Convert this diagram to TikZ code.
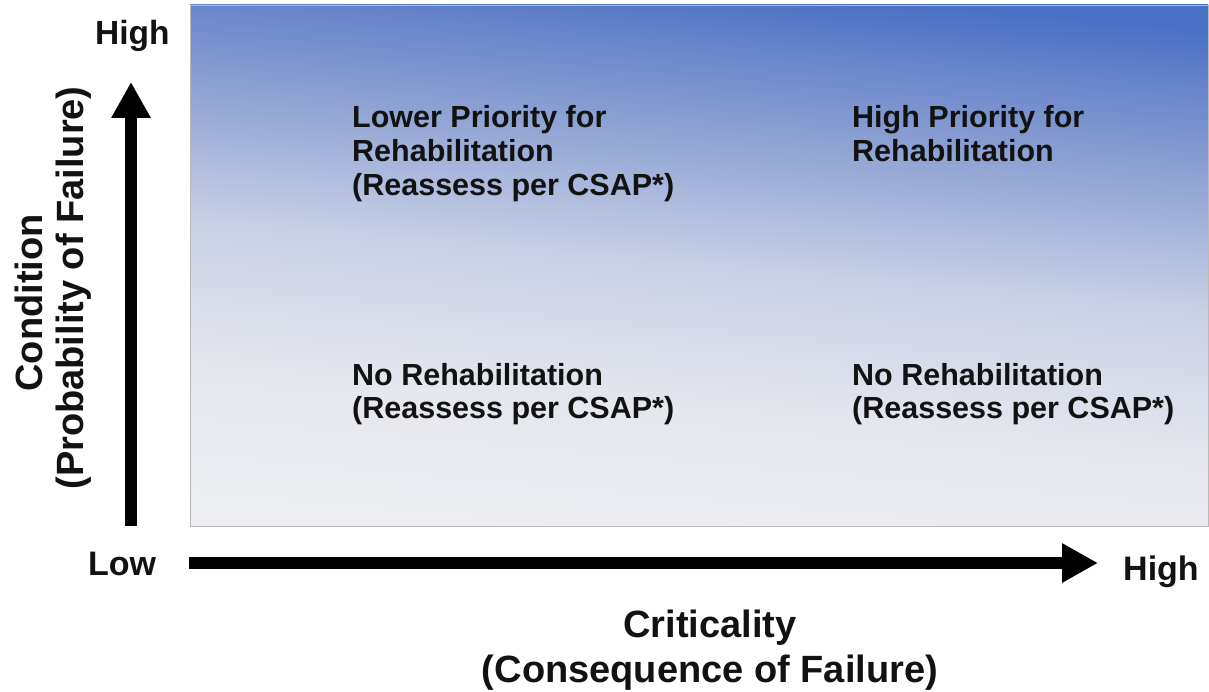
\documentclass[tikz,border=0pt]{standalone}
\usepackage{fontspec}
\setmainfont{Liberation Sans}
\usetikzlibrary{arrows.meta}
\definecolor{gA}{RGB}{237,238,242}
\definecolor{gB}{RGB}{229,231,238}
\definecolor{gC}{RGB}{200,208,229}
\definecolor{gD}{RGB}{146,165,212}
\definecolor{gE}{RGB}{102,131,202}
\definecolor{gF}{RGB}{72,112,196}
\definecolor{ink}{RGB}{18,18,18}
\pgfdeclareverticalshading{bgshade}{100bp}{color(0bp)=(gA); color(25bp)=(gA); color(37bp)=(gB); color(50bp)=(gC); color(61bp)=(gD); color(70bp)=(gE); color(75bp)=(gF); color(100bp)=(gF)}
\tikzset{
  body/.style={anchor=base west, inner sep=0pt, text=ink, font=\fontsize{30.5}{34}\selectfont\bfseries},
  corner/.style={anchor=base west, inner sep=0pt, text=ink, font=\fontsize{34}{40}\selectfont\bfseries},
  axistitle/.style={anchor=base, inner sep=0pt, text=ink, font=\fontsize{38}{46}\selectfont\bfseries},
  bigarrow/.style={line width=12pt, draw=black, -{Triangle[length=36pt,width=37pt]}}
}
\begin{document}
\begin{tikzpicture}[x=1pt,y=-1pt]
\useasboundingbox (0,0) rectangle (1209,692);
\fill[white] (0,0) rectangle (1209,692);
% gradient field
\shade[shading=bgshade, shading angle=-5] (190,5) rectangle (1208,526);
\draw[gray!55, line width=0.8pt] (190,5) rectangle (1208,526);
% quadrant texts
\node[body] (lp1) at (352,128) {Lower Priority for};
\node[body] (lp2) at (352,162) {Rehabilitation};
\node[body] (lp3) at (352,196) {(Reassess per CSAP*)};
\node[body] (hp1) at (852,128) {High Priority for};
\node[body] (hp2) at (852,162) {Rehabilitation};
\node[body] (nl1) at (352,385) {No Rehabilitation};
\node[body] (nl2) at (352,418) {(Reassess per CSAP*)};
\node[body] (nr1) at (852,385) {No Rehabilitation};
\node[body] (nr2) at (852,418) {(Reassess per CSAP*)};
% corner labels
\node[corner, font=\fontsize{33.5}{40}\selectfont\bfseries] (yhigh) at (95,45) {High};
\node[corner] (xlow) at (88,575) {Low};
\node[corner] (xhigh) at (1123,580) {High};
% axis titles
\node[axistitle] (xt1) at (710,637) {Criticality};
\node[axistitle] (xt2) at (710,682) {(Consequence of Failure)};
\node[axistitle, rotate=90] (yt1) at (42,303) {Condition};
\node[axistitle, rotate=90] (yt2) at (83,288) {(Probability of Failure)};
% arrows
\coordinate (vs) at (131,526);
\coordinate (ve) at (131,82);
\coordinate (hs) at (189,563);
\coordinate (he) at (1098,563);
\draw[bigarrow] (vs) -- (ve);
\draw[bigarrow] (hs) -- (he);
\end{tikzpicture}
\end{document}
